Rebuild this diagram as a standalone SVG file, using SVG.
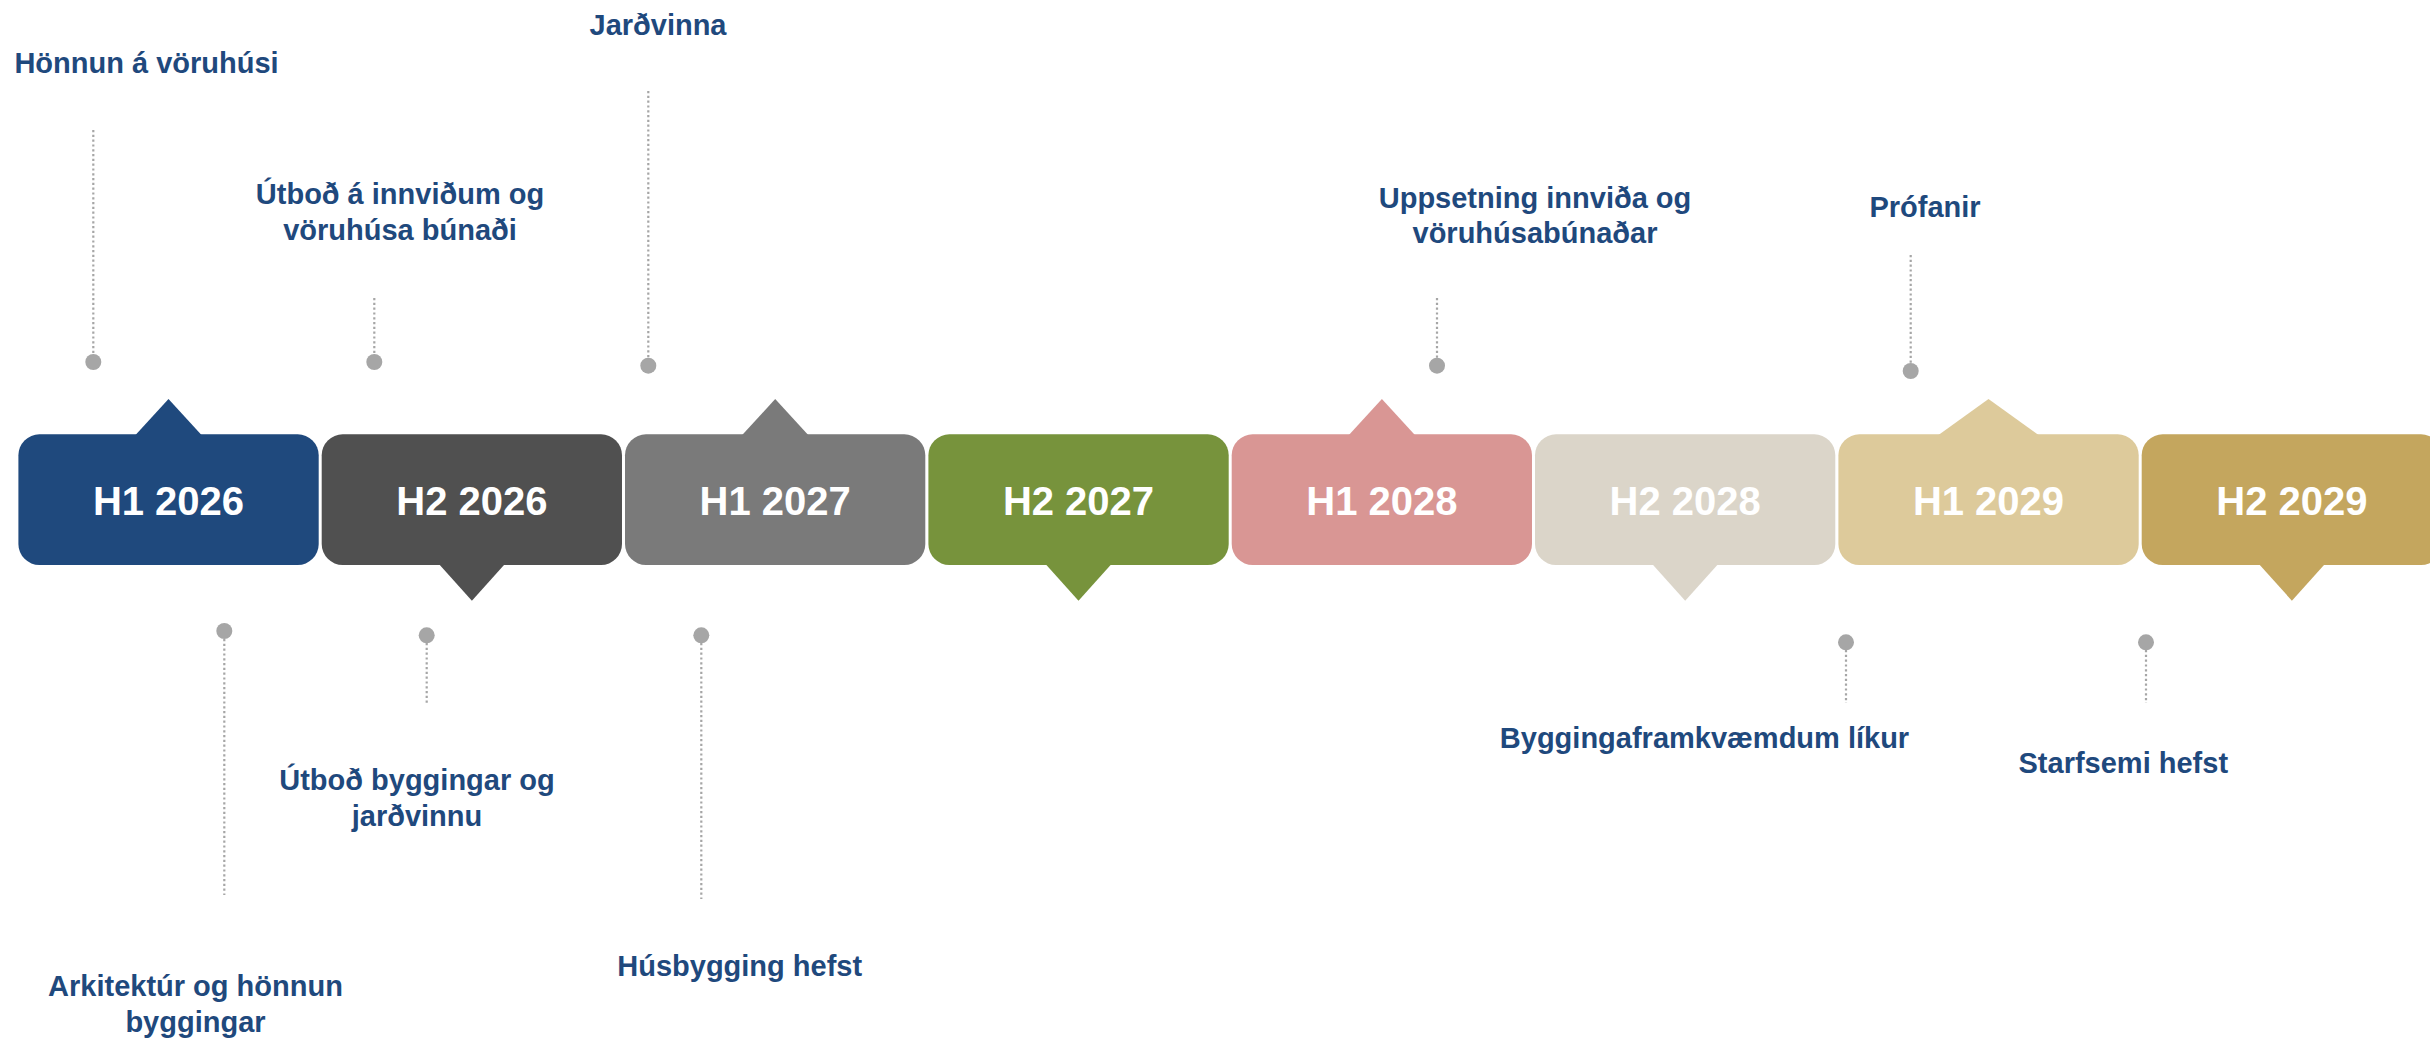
<svg xmlns="http://www.w3.org/2000/svg" width="2430" height="1039" viewBox="0 0 2430 1039">
<style>
.box text{font-family:"Liberation Sans",Arial,sans-serif;font-weight:bold;font-size:40px;fill:#ffffff;text-anchor:middle}
.lbl{font-family:"Liberation Sans",Arial,sans-serif;font-weight:bold;font-size:29px;fill:#1f497d;text-anchor:middle}
.lead{stroke:#a6a6a6;stroke-width:2.2;stroke-dasharray:2.2 2.6;fill:none}
.dot{fill:#a6a6a6}
</style>
<rect x="0" y="0" width="2430" height="1039" fill="#ffffff"/>
<g id="timeline">
<g id="h1-2026" class="box"><rect x="18.4" y="434.3" width="300.3" height="130.7" rx="21" fill="#1f497d"/><polygon points="135.5,435 168.5,399 201.5,435" fill="#1f497d"/><text x="168.5" y="515">H1 2026</text></g>
<g id="h2-2026" class="box"><rect x="321.7" y="434.3" width="300.3" height="130.7" rx="21" fill="#505050"/><polygon points="438.9,564 471.9,600.7 504.9,564" fill="#505050"/><text x="471.9" y="515">H2 2026</text></g>
<g id="h1-2027" class="box"><rect x="625" y="434.3" width="300.3" height="130.7" rx="21" fill="#7a7a7a"/><polygon points="742.2,435 775.2,399 808.2,435" fill="#7a7a7a"/><text x="775.2" y="515">H1 2027</text></g>
<g id="h2-2027" class="box"><rect x="928.4" y="434.3" width="300.3" height="130.7" rx="21" fill="#77933c"/><polygon points="1045.5,564 1078.5,600.7 1111.5,564" fill="#77933c"/><text x="1078.5" y="515">H2 2027</text></g>
<g id="h1-2028" class="box"><rect x="1231.7" y="434.3" width="300.3" height="130.7" rx="21" fill="#d99694"/><polygon points="1348.9,435 1381.9,399 1414.9,435" fill="#d99694"/><text x="1381.9" y="515">H1 2028</text></g>
<g id="h2-2028" class="box"><rect x="1535" y="434.3" width="300.3" height="130.7" rx="21" fill="#dbd5c9"/><polygon points="1652.2,564 1685.2,600.7 1718.2,564" fill="#dbd5c9"/><text x="1685.2" y="515">H2 2028</text></g>
<g id="h1-2029" class="box"><rect x="1838.4" y="434.3" width="300.3" height="130.7" rx="21" fill="#ddca9b"/><polygon points="1938.5,435 1988.5,399 2038.5,435" fill="#ddca9b"/><text x="1988.5" y="515">H1 2029</text></g>
<g id="h2-2029" class="box"><rect x="2141.7" y="434.3" width="300.3" height="130.7" rx="21" fill="#c4a65e"/><polygon points="2258.9,564 2291.9,600.7 2324.9,564" fill="#c4a65e"/><text x="2291.9" y="515">H2 2029</text></g>
</g>
<g id="connectors">
<line class="lead" x1="93.3" y1="130" x2="93.3" y2="354"/>
<line class="lead" x1="374.3" y1="298" x2="374.3" y2="354"/>
<line class="lead" x1="648.3" y1="91" x2="648.3" y2="358"/>
<line class="lead" x1="224.3" y1="639" x2="224.3" y2="895"/>
<line class="lead" x1="426.7" y1="643" x2="426.7" y2="703"/>
<line class="lead" x1="701.3" y1="643" x2="701.3" y2="899"/>
<line class="lead" x1="1437" y1="298" x2="1437" y2="358"/>
<line class="lead" x1="1910.7" y1="255" x2="1910.7" y2="363"/>
<line class="lead" x1="1846" y1="650" x2="1846" y2="703"/>
<line class="lead" x1="2146" y1="650" x2="2146" y2="703"/>
</g>
<g id="m1"><circle class="dot" cx="93.3" cy="362" r="8"/><text class="lbl" x="146.5" y="73.3">Hönnun á vöruhúsi</text></g>
<g id="m2"><circle class="dot" cx="374.3" cy="362" r="8"/><text class="lbl" x="400" y="204">Útboð á innviðum og</text><text class="lbl" x="400" y="240">vöruhúsa búnaði</text></g>
<g id="m3"><circle class="dot" cx="648.3" cy="365.7" r="8"/><text class="lbl" x="658" y="35">Jarðvinna</text></g>
<g id="m4"><circle class="dot" cx="224.3" cy="631" r="8"/><text class="lbl" x="195.5" y="995.7">Arkitektúr og hönnun</text><text class="lbl" x="195.5" y="1031.5">byggingar</text></g>
<g id="m5"><circle class="dot" cx="426.7" cy="635.3" r="8"/><text class="lbl" x="417" y="790">Útboð byggingar og</text><text class="lbl" x="417" y="826">jarðvinnu</text></g>
<g id="m6"><circle class="dot" cx="701.3" cy="635.3" r="8"/><text class="lbl" x="739.7" y="976">Húsbygging hefst</text></g>
<g id="m7"><circle class="dot" cx="1437" cy="365.7" r="8"/><text class="lbl" x="1535" y="207.7">Uppsetning innviða og</text><text class="lbl" x="1535" y="243.3">vöruhúsabúnaðar</text></g>
<g id="m8"><circle class="dot" cx="1910.7" cy="371" r="8"/><text class="lbl" x="1925" y="216.7">Prófanir</text></g>
<g id="m9"><circle class="dot" cx="1846" cy="642.3" r="8"/><text class="lbl" x="1704.5" y="747.7">Byggingaframkvæmdum líkur</text></g>
<g id="m10"><circle class="dot" cx="2146" cy="642.3" r="8"/><text class="lbl" x="2123.3" y="773.3">Starfsemi hefst</text></g>
</svg>
